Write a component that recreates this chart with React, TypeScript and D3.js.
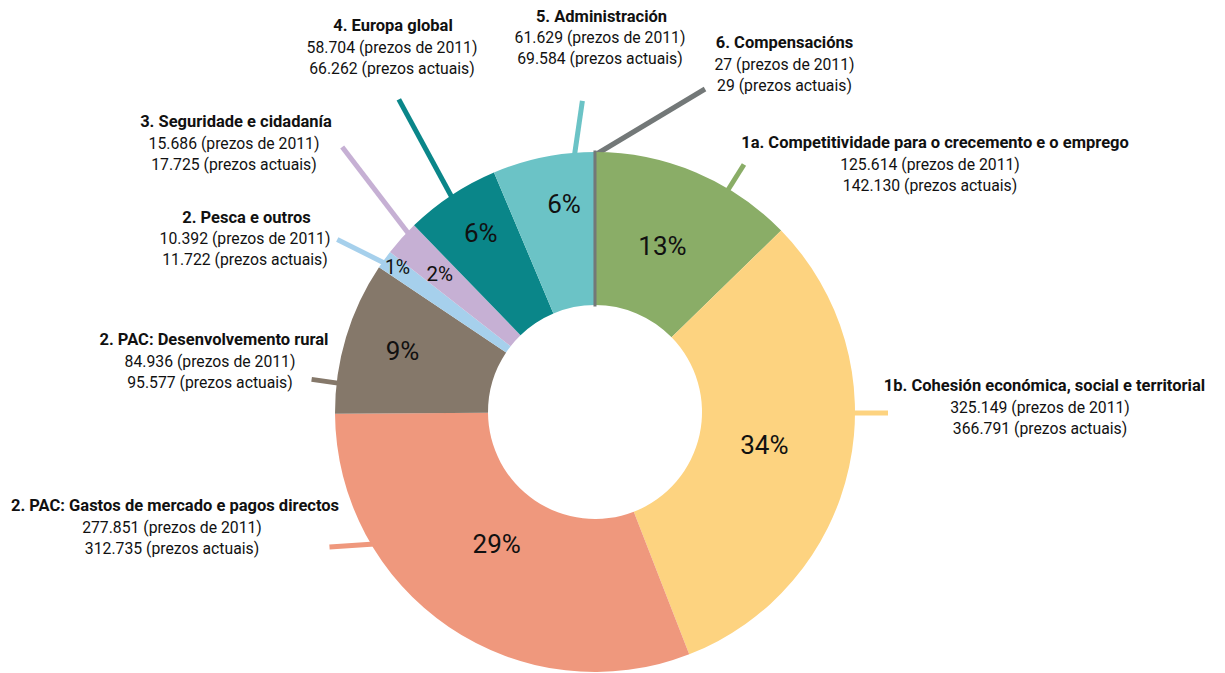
import React from "react";
import * as d3 from "d3";

// ---- data ----
const categories = [
  "1a. Competitividade para o crecemento e o emprego",
  "1b. Cohesión económica, social e territorial",
  "2. PAC: Gastos de mercado e pagos directos",
  "2. PAC: Desenvolvemento rural",
  "2. Pesca e outros",
  "3. Seguridade e cidadanía",
  "4. Europa global",
  "5. Administración",
  "6. Compensacións",
];
const prices2011 = ["125.614", "325.149", "277.851", "84.936", "10.392", "15.686", "58.704", "61.629", "27"];
const pricesCurrent = ["142.130", "366.791", "312.735", "95.577", "11.722", "17.725", "66.262", "69.584", "29"];
const percentLabels = ["13%", "34%", "29%", "9%", "1%", "2%", "6%", "6%", ""];
// share of the ring as drawn in the reference (percent of the full circle)
const sliceShare = [12.7, 31.4, 30.8, 9.5, 1.15, 2.2, 5.9, 6.35, 0.003];

// ---- styling / layout ----
const colors = ["#8aad67", "#fdd380", "#ef987d", "#85786a", "#a6d0ec", "#c6b0d4", "#0a8689", "#6bc3c6", "#737878"];
const labelLayout = [
  { x: 930, y: 148, tdx: 5 },
  { x: 1040, y: 391, tdx: 4.5 },
  { x: 172, y: 511, tdx: 3 },
  { x: 210, y: 345, tdx: 4 },
  { x: 245, y: 222.5, tdx: 1.5 },
  { x: 234, y: 127, tdx: 2 },
  { x: 392, y: 31, tdx: 1 },
  { x: 600, y: 21.5, tdx: 1.5 },
  { x: 784.5, y: 48, tdx: 0 },
];
const percentLayout = [
  { x: 662.5, y: 246.3, s: 26 },
  { x: 764.3, y: 444.5, s: 26 },
  { x: 496.7, y: 543.7, s: 26 },
  { x: 402.5, y: 351, s: 26 },
  { x: 397.5, y: 267.5, s: 19.5 },
  { x: 439.7, y: 273.8, s: 20.5 },
  { x: 480.8, y: 233, s: 26 },
  { x: 564, y: 203.7, s: 26 },
  { x: 0, y: 0, s: 0 },
];
const leaderLayout = [
  { a: 30.9, dx: 17, dy: -27 },
  { a: 90.2, dx: 36, dy: 0 },
  { a: 239.1, dx: -45, dy: 3 },
  { a: 276.4, dx: -28, dy: -4 },
  { a: 305.3, dx: -48, dy: -24 },
  { a: 313.7, dx: -67, dy: -87.5 },
  { a: 326.3, dx: -53.6, dy: -98.8 },
  { a: 355.4, dx: 8, dy: -55 },
  { a: 0, dx: 110, dy: -66 },
];

const FONT = "Roboto, 'Open Sans', sans-serif";

export default function App() {
  const W = 1225;
  const H = 673;
  const cx = 595;
  const cy = 412;
  const rOuter = 260;
  const rInner = 107;

  const pie = d3
    .pie<number>()
    .sort(null)
    .value((d) => d)
    .startAngle(0)
    .endAngle(2 * Math.PI);
  const arcs = pie(sliceShare);
  const arc = d3.arc<d3.PieArcDatum<number>>().innerRadius(rInner).outerRadius(rOuter);

  const lineGap = 21.5;
  const lineGap2 = 21;

  return (
    <svg
      width={W}
      height={H}
      style={{ position: "absolute", left: 0, top: 0, background: "#fff" }}
      fontFamily={FONT}
    >
      <rect width={W} height={H} fill="#fff" />
      {/* leader lines */}
      <g>
        {leaderLayout.map((l, i) => {
          const [sx, sy] = d3.pointRadial((l.a * Math.PI) / 180, rOuter - 3);
          const x1 = cx + sx;
          const y1 = cy + sy;
          return (
            <line
              key={"ld" + i}
              x1={x1}
              y1={y1}
              x2={x1 + l.dx}
              y2={y1 + l.dy}
              stroke={colors[i]}
              strokeWidth={5}
            />
          );
        })}
      </g>
      {/* ring */}
      <g transform={`translate(${cx},${cy})`}>
        {arcs.map((a, i) => (
          <path
            key={"arc" + i}
            d={arc(a) || ""}
            fill={colors[i]}
            stroke={i === arcs.length - 1 ? colors[i] : "none"}
            strokeWidth={i === arcs.length - 1 ? 3 : 0}
          />
        ))}
      </g>
      {/* percent labels */}
      <g>
        {percentLabels.map((p, i) =>
          p ? (
            <text
              key={"pc" + i}
              x={percentLayout[i].x}
              y={percentLayout[i].y}
              fontSize={percentLayout[i].s}
              fontWeight={400}
              textAnchor="middle"
              dominantBaseline="central"
              fill="#111"
            >
              {p}
            </text>
          ) : null
        )}
      </g>
      {/* category labels */}
      <g>
        {categories.map((c, i) => {
          const L = labelLayout[i];
          return (
            <g key={"lb" + i} fill="#111" textAnchor="middle">
              <text x={L.x + L.tdx} y={L.y} fontWeight={700} fontSize={16.5}>
                {c}
              </text>
              <text x={L.x} y={L.y + lineGap} fontSize={15.75}>
                {prices2011[i] + " (prezos de 2011)"}
              </text>
              <text x={L.x} y={L.y + lineGap + lineGap2} fontSize={15.75}>
                {pricesCurrent[i] + " (prezos actuais)"}
              </text>
            </g>
          );
        })}
      </g>
    </svg>
  );
}
